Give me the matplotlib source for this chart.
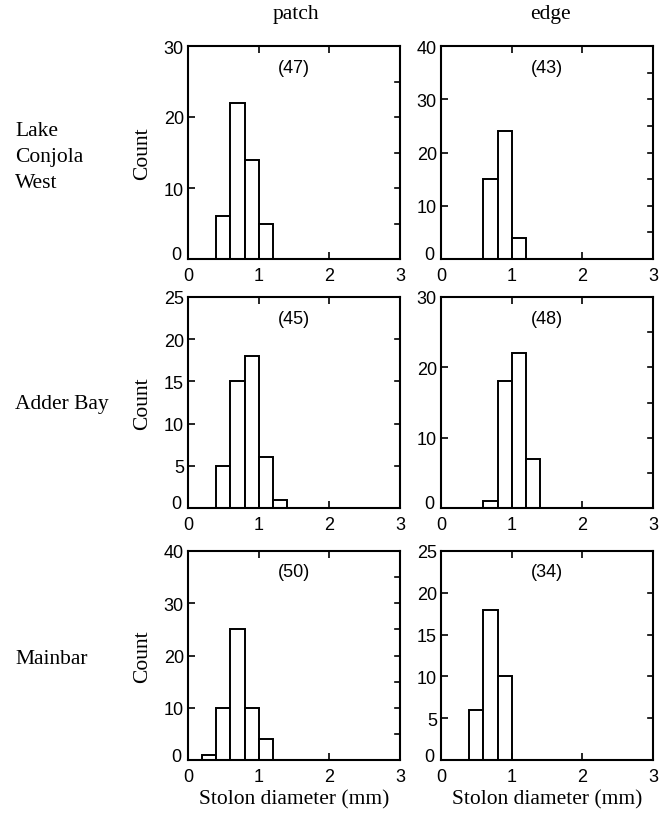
import numpy as np
import matplotlib.pyplot as plt
import matplotlib.transforms as mtransforms

# bin edges are 0.2 mm wide
bin_width = 0.2

sites = ['Lake\nConjola\nWest', 'Adder Bay', 'Mainbar']
columns = ['patch', 'edge']

# (left edge of first bin, counts)
lcw_patch_start, lcw_patch = 0.4, [6, 22, 14, 5]
lcw_edge_start, lcw_edge = 0.6, [15, 24, 4]
ab_patch_start, ab_patch = 0.4, [5, 15, 18, 6, 1]
ab_edge_start, ab_edge = 0.6, [1, 18, 22, 7]
mb_patch_start, mb_patch = 0.2, [1, 10, 25, 10, 4]
mb_edge_start, mb_edge = 0.4, [6, 18, 10]

sample_sizes = [[47, 43], [45, 48], [50, 34]]
ymax = [[30, 40], [25, 30], [40, 25]]
ystep = [[10, 10], [5, 10], [10, 5]]

data = [[(lcw_patch_start, lcw_patch), (lcw_edge_start, lcw_edge)],
        [(ab_patch_start, ab_patch), (ab_edge_start, ab_edge)],
        [(mb_patch_start, mb_patch), (mb_edge_start, mb_edge)]]

serif = 'Liberation Serif'
sans = 'Liberation Sans'

W, H = 669, 820
fig = plt.figure(figsize=(W / 100, H / 100), dpi=100)

col_x = [(188, 400), (441, 653)]
row_y = [(47, 260), (298, 509), (552, 761)]

for r in range(3):
    for c in range(2):
        x0, x1 = col_x[c]
        y0, y1 = row_y[r]
        ax = fig.add_axes([x0 / W, 1 - y1 / H, (x1 - x0) / W, (y1 - y0) / H])
        start, counts = data[r][c]
        lefts = start + bin_width * np.arange(len(counts))
        ax.bar(lefts, counts, width=bin_width, align='edge',
               facecolor='white', edgecolor='black', linewidth=1.4)
        ax.set_xlim(0, 3)
        ax.set_ylim(0, ymax[r][c])
        ax.set_xticks([0, 1, 2, 3])
        ax.set_yticks(np.arange(0, ymax[r][c] + 1, ystep[r][c]))
        ax.tick_params(direction='in', length=5, width=1.2,
                       top=True, right=False)
        ax.tick_params(axis='x', pad=6)
        ax.tick_params(axis='y', pad=3)
        for lab in ax.get_xticklabels() + ax.get_yticklabels():
            lab.set_fontfamily(sans)
            lab.set_fontsize(13)
        # lift the y "0" so it does not sit on the x "0"
        shift = mtransforms.ScaledTranslation(-2 / 100, 6 / 100,
                                              fig.dpi_scale_trans)
        y0lab = ax.get_yticklabels()[0]
        y0lab.set_transform(y0lab.get_transform() + shift)
        # small ticks along the right spine
        for yv in np.arange(5, ymax[r][c], 5):
            ax.plot([2.93, 3.0], [yv, yv], color='black', lw=1.2,
                    clip_on=False)
        for s in ax.spines.values():
            s.set_linewidth(1.5)
        ax.text(0.5, 0.9, '(%d)' % sample_sizes[r][c], transform=ax.transAxes,
                ha='center', va='center', fontsize=13, family=sans)
        if c == 0:
            ax.set_ylabel('Count', fontsize=15.5, family=serif, labelpad=8)
        if r == 2:
            ax.set_xlabel('Stolon diameter (mm)', fontsize=15.5, family=serif,
                          labelpad=3)

# column headings
fig.text(296 / W, 1 - 15 / H, columns[0], ha='center', va='center',
         fontsize=15.5, family=serif)
fig.text(550 / W, 1 - 15 / H, columns[1], ha='center', va='center',
         fontsize=15.5, family=serif)

# row labels
row_label_y = [158, 405, 660]
for lab, yy in zip(sites, row_label_y):
    fig.text(15 / W, 1 - yy / H, lab, ha='left', va='center',
             fontsize=15.5, family=serif, linespacing=1.5)

fig.savefig('out.png', dpi=100)
